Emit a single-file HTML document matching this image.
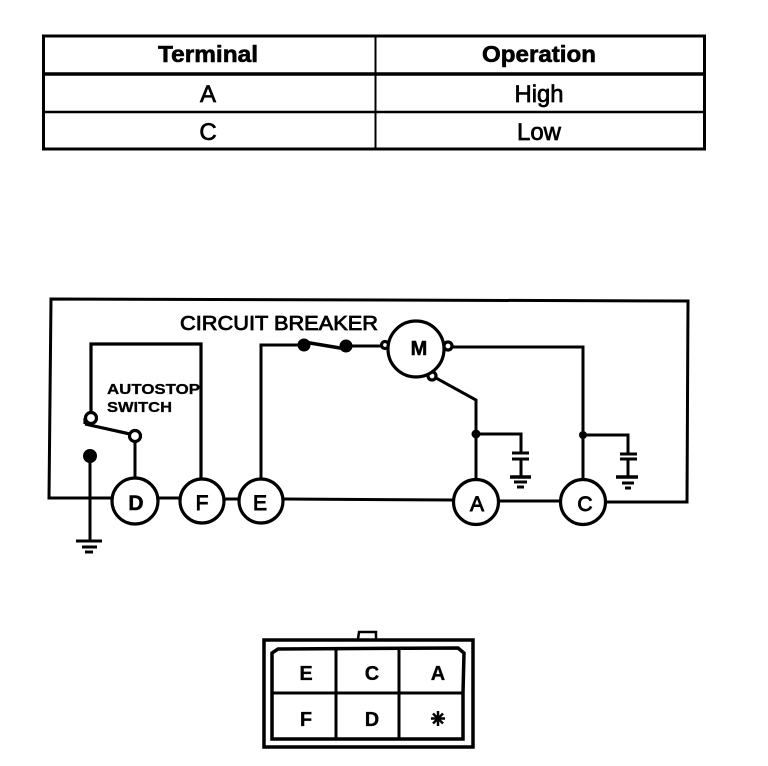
<!DOCTYPE html>
<html>
<head>
<meta charset="utf-8">
<style>
html,body{margin:0;padding:0;background:#fff;}
svg{display:block;}
text{font-family:"Liberation Sans",Arial,sans-serif;fill:#000;stroke:#000;}
</style>
</head>
<body>
<svg width="768" height="766" viewBox="0 0 768 766" xmlns="http://www.w3.org/2000/svg">
<rect width="768" height="766" fill="#fff"/>
<!-- Table -->
<g fill="none" stroke="#000">
<rect x="43.500" y="36" width="661" height="113" stroke-width="3"/>
<line x1="43" y1="74" x2="705" y2="74" stroke-width="3.500"/>
<line x1="43" y1="112" x2="705" y2="112" stroke-width="2.500"/>
<line x1="375.500" y1="36" x2="375.500" y2="149" stroke-width="2"/>
</g>
<g text-anchor="middle">
<text x="208" y="62" font-size="23" font-weight="bold" stroke-width=".6" textLength="100" lengthAdjust="spacingAndGlyphs">Terminal</text>
<text x="539" y="62" font-size="23" font-weight="bold" stroke-width=".6" textLength="114" lengthAdjust="spacingAndGlyphs">Operation</text>
<text x="208" y="102" font-size="24" stroke-width=".7">A</text>
<text x="539" y="102" font-size="24" stroke-width=".7" textLength="49" lengthAdjust="spacingAndGlyphs">High</text>
<text x="208" y="140" font-size="24" stroke-width=".7">C</text>
<text x="539" y="140" font-size="24" stroke-width=".7" textLength="44" lengthAdjust="spacingAndGlyphs">Low</text>
</g>
<!-- Circuit wires -->
<g fill="none" stroke="#000" stroke-width="3">
<polyline points="112,498 49,498 51,299 688,301 687,502 606,502" stroke-width="3"/>
<line x1="158" y1="498" x2="180" y2="498"/>
<line x1="224" y1="499" x2="239" y2="499"/>
<line x1="284" y1="499" x2="453" y2="500"/>
<line x1="499" y1="501" x2="561" y2="501"/>
<polyline points="91,413 91,344 201,344 201,479" stroke-width="3.200"/>
<polyline points="261,479 261,345 304,345"/>
<polyline points="304,342 346,349" stroke-width="3.500"/>
<polyline points="346,346 383,346"/>
<polyline points="453,347 583,347 583,480"/>
<polyline points="476,479 476,400 436,378"/>
<polyline points="476,434 521,434 521,453"/>
<polyline points="583,435 628,435 628,454"/>
<line x1="521" y1="459" x2="521" y2="477"/>
<line x1="628" y1="459" x2="628" y2="477"/>
<line x1="135" y1="441" x2="135" y2="479"/>
<line x1="85" y1="424" x2="130" y2="434" stroke-width="3.200"/>
<line x1="85" y1="418" x2="85" y2="424" stroke-width="3.200"/>
<line x1="90" y1="456" x2="90" y2="541"/>
<!-- Ground -->
<line x1="76" y1="541" x2="102" y2="541"/>
<line x1="82" y1="547" x2="97" y2="547"/>
<line x1="85" y1="552" x2="93" y2="552"/>
<line x1="512" y1="453" x2="529" y2="453"/>
<line x1="512" y1="459" x2="529" y2="459"/>
<line x1="510" y1="477" x2="531" y2="477" stroke-width="3.500"/>
<line x1="514" y1="482" x2="527" y2="482"/>
<line x1="517" y1="487" x2="524" y2="487"/>
<line x1="620" y1="454" x2="637" y2="454"/>
<line x1="620" y1="459" x2="637" y2="459"/>
<line x1="616" y1="477" x2="638" y2="477" stroke-width="3.500"/>
<line x1="622" y1="483" x2="634" y2="483"/>
<line x1="625" y1="488" x2="631" y2="488"/>
</g>
<!-- Dots -->
<g fill="#000">
<circle cx="304" cy="345" r="6.500"/>
<circle cx="346" cy="346" r="6.500"/>
<circle cx="90" cy="456" r="7"/>
<circle cx="476" cy="434" r="4.500"/>
<circle cx="583" cy="435" r="4"/>
</g>
<!-- Open terminals and circles -->
<g fill="#fff" stroke="#000" stroke-width="3.200">
<circle cx="91" cy="418" r="5.500"/>
<circle cx="135" cy="436" r="5.500"/>
<circle cx="385" cy="345" r="3.500"/>
<circle cx="448" cy="346" r="4"/>
<circle cx="432" cy="376" r="4"/>
<circle cx="416" cy="349" r="28"/>
<circle cx="135" cy="501" r="23"/>
<circle cx="202" cy="501" r="22"/>
<circle cx="261" cy="501" r="22"/>
<circle cx="476" cy="502" r="22.500"/>
<circle cx="583" cy="502" r="22.500"/>
</g>
<!-- Circuit labels -->
<g text-anchor="middle">
<text x="136" y="510" font-weight="bold" font-size="21" stroke-width=".5">D</text>
<text x="202" y="510" font-size="21" stroke-width=".9">F</text>
<text x="260" y="510" font-size="21" stroke-width=".9">E</text>
<text x="477" y="511" font-size="21" stroke-width=".9">A</text>
<text x="585" y="511" font-size="21" stroke-width=".9">C</text>
<text x="419" y="355" font-size="20" font-weight="bold" stroke-width=".5">M</text>
</g>
<text x="180" y="330" font-size="20" stroke-width=".8" textLength="198" lengthAdjust="spacingAndGlyphs">CIRCUIT BREAKER</text>
<text x="107" y="394" font-size="15" font-weight="bold" stroke-width=".3" textLength="93" lengthAdjust="spacingAndGlyphs">AUTOSTOP</text>
<text x="107" y="412" font-size="15" font-weight="bold" stroke-width=".3" textLength="65" lengthAdjust="spacingAndGlyphs">SWITCH</text>
<!-- Connector -->
<g fill="none" stroke="#000">
<rect x="264" y="640" width="209" height="107" stroke-width="3.500"/>
<polyline points="358,639 359,632 376,632 376,639" stroke-width="2.500"/>
<polygon points="278,649 458,648 464,653 463,693 463,739 272,739 272,653" stroke-width="3.500"/>
<line x1="336" y1="648" x2="336" y2="739" stroke-width="3"/>
<line x1="399" y1="648" x2="399" y2="739" stroke-width="3"/>
<line x1="272" y1="693" x2="463" y2="693" stroke-width="3"/>
</g>
<g text-anchor="middle" font-size="20" font-weight="bold" stroke-width=".3">
<text x="306" y="680">E</text>
<text x="372" y="680">C</text>
<text x="438" y="680">A</text>
<text x="306" y="726">F</text>
<text x="372" y="726">D</text>
</g>
<g stroke="#000" stroke-width="2.500">
<line x1="438" y1="711" x2="438" y2="726"/>
<line x1="431" y1="718.500" x2="445" y2="718.500"/>
<line x1="433" y1="713.500" x2="443" y2="723.500"/>
<line x1="443" y1="713.500" x2="433" y2="723.500"/>
</g>
</svg>
</body>
</html>
